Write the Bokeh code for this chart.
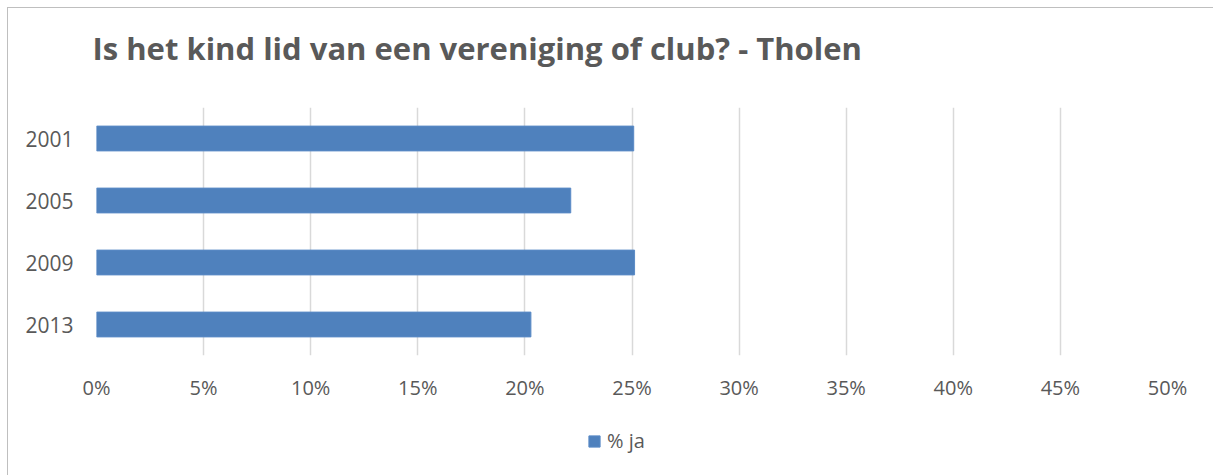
from bokeh.plotting import figure
from bokeh.layouts import column
from bokeh.models import ColumnDataSource, FixedTicker, NumeralTickFormatter, Legend, LegendItem, Title
from bokeh.embed import file_html
from bokeh.resources import INLINE

years = ["2001", "2005", "2009", "2013"]
pct_ja = [0.2508, 0.2214, 0.2512, 0.2028]
x_ticks = [0, 0.05, 0.10, 0.15, 0.20, 0.25, 0.30, 0.35, 0.40, 0.45, 0.50]
title_text = "Is het kind lid van een vereniging of club? - Tholen"
series_name = "% ja"

TXT = "#595959"
FONT = "Open Sans"
BAR = "#4F81BD"

src = ColumnDataSource(dict(year=years, val=pct_ja))

p = figure(width=1205, height=400, output_backend="svg", toolbar_location=None,
           y_range=list(reversed(years)), x_range=(0, 0.5),
           min_border_left=88, min_border_right=46, min_border_top=99, min_border_bottom=53)
p.outline_line_color = None
p.background_fill_color = "white"
p.border_fill_color = "white"

p.title = Title(text=title_text, text_font=FONT, text_font_size="31px", text_font_style="bold",
                text_color=TXT, align="left", offset=-4, standoff=0)
# empty spacer between the frame and the title
p.add_layout(Title(text=" ", text_font=FONT, text_font_size="10px", standoff=23), "above")

r = p.hbar(y="year", right="val", left=0, height=0.4, source=src,
           fill_color=BAR, line_color="#5A8AC6", line_width=1)

p.y_range.range_padding = 0
p.ygrid.grid_line_color = None
p.xgrid.grid_line_color = "#d9d9d9"
p.xgrid.grid_line_width = 1.5
p.xgrid.ticker = FixedTicker(ticks=x_ticks)

p.xaxis.ticker = FixedTicker(ticks=x_ticks)
p.xaxis.formatter = NumeralTickFormatter(format="0%")
for ax in (p.xaxis, p.yaxis):
    ax.axis_line_color = None
    ax.major_tick_line_color = None
    ax.minor_tick_line_color = None
    ax.major_label_text_font = FONT
    ax.major_label_text_color = TXT
p.xaxis.major_label_text_font_size = "20px"
p.yaxis.major_label_text_font_size = "21px"
p.xaxis.major_label_standoff = 12
p.yaxis.major_label_standoff = 17

# legend strip below the chart (same series, drawn through its own legend)
lg = figure(width=1205, height=67, output_backend="svg", toolbar_location=None,
            x_range=p.x_range, y_range=p.y_range, x_axis_location=None, y_axis_location=None,
            min_border=0)
lg.outline_line_color = None
lg.grid.visible = False
lg.background_fill_color = "white"
lg.border_fill_color = "white"
r2 = lg.hbar(y="year", right="val", left=0, height=0.4, source=src,
             fill_color=BAR, line_color="#5A8AC6", line_width=1, visible=False)

legend = Legend(items=[LegendItem(label=series_name, renderers=[r2])], orientation="horizontal",
                location=(491, 21), label_text_font=FONT, label_text_font_size="20px",
                label_text_color=TXT, glyph_width=14, glyph_height=14, border_line_color=None,
                background_fill_alpha=0, label_standoff=6, padding=0, margin=0, spacing=0,
                inactive_fill_alpha=0)
lg.add_layout(legend)

layout = column(p, lg, spacing=0)
layout.styles = {"margin-left": "7px", "margin-top": "7px",
                 "border-left": "1px solid #bfbfbf", "border-top": "1px solid #bfbfbf"}

open("out.html", "w").write(file_html(layout, INLINE))
